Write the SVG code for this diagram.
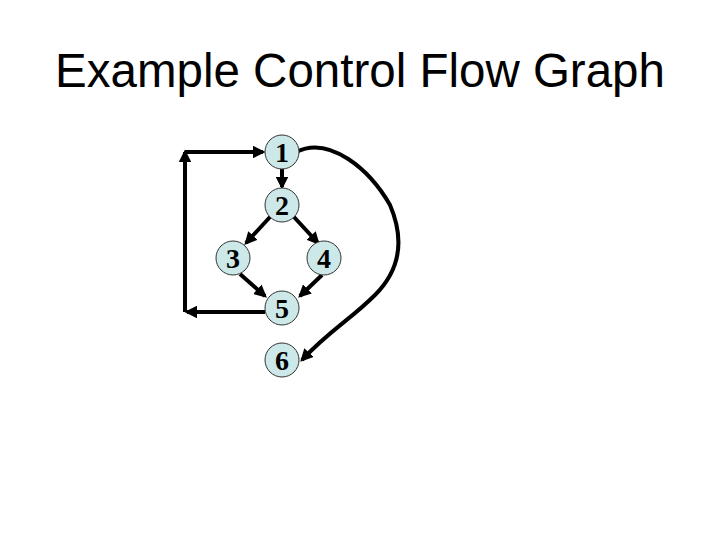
<svg xmlns="http://www.w3.org/2000/svg" width="720" height="540" viewBox="0 0 720 540">
<style>
.n circle{fill:#cce8e8;stroke:#333;stroke-width:1}
.n text{font-family:"Liberation Serif",serif;font-size:28px;font-weight:bold;text-anchor:middle;fill:#000}
.e{fill:none;stroke:#000;stroke-width:4}
</style>
<defs><marker id="a" viewBox="0 0 10 10" refX="8" refY="5" markerWidth="3.2" markerHeight="3.2" orient="auto"><path d="M0,0L10,5L0,10z"/></marker></defs>
<rect width="720" height="540" fill="#fff"/>
<text x="360" y="87" font-family="Liberation Sans,sans-serif" font-size="47.5" text-anchor="middle">Example Control Flow Graph</text>
<g id="edges">
<path class="e" d="M282,169V187" marker-end="url(#a)"/>
<path class="e" d="M270,217L246,243" marker-end="url(#a)"/>
<path class="e" d="M294,217L318,243" marker-end="url(#a)"/>
<path class="e" d="M240,274L265,296" marker-end="url(#a)"/>
<path class="e" d="M322,275L300,296" marker-end="url(#a)"/>
<path class="e" d="M265,312H187" marker-end="url(#a)"/>
<path class="e" d="M185,312V152" marker-end="url(#a)"/>
<path class="e" d="M185,152H263" marker-end="url(#a)"/>
<path class="e" d="M296,152C330,135 370,170 390,205C405,240 400,270 375,295C350,320 330,330 302,360" marker-end="url(#a)"/>
</g>
<g id="n1" class="n"><circle cx="282" cy="152" r="17"/><text x="282" y="162">1</text></g>
<g id="n2" class="n"><circle cx="282" cy="205" r="17"/><text x="282" y="215">2</text></g>
<g id="n3" class="n"><circle cx="233" cy="258" r="17"/><text x="233" y="268">3</text></g>
<g id="n4" class="n"><circle cx="324" cy="258" r="17"/><text x="324" y="268">4</text></g>
<g id="n5" class="n"><circle cx="282" cy="308" r="17"/><text x="282" y="318">5</text></g>
<g id="n6" class="n"><circle cx="282" cy="360" r="17"/><text x="282" y="370">6</text></g>
</svg>
